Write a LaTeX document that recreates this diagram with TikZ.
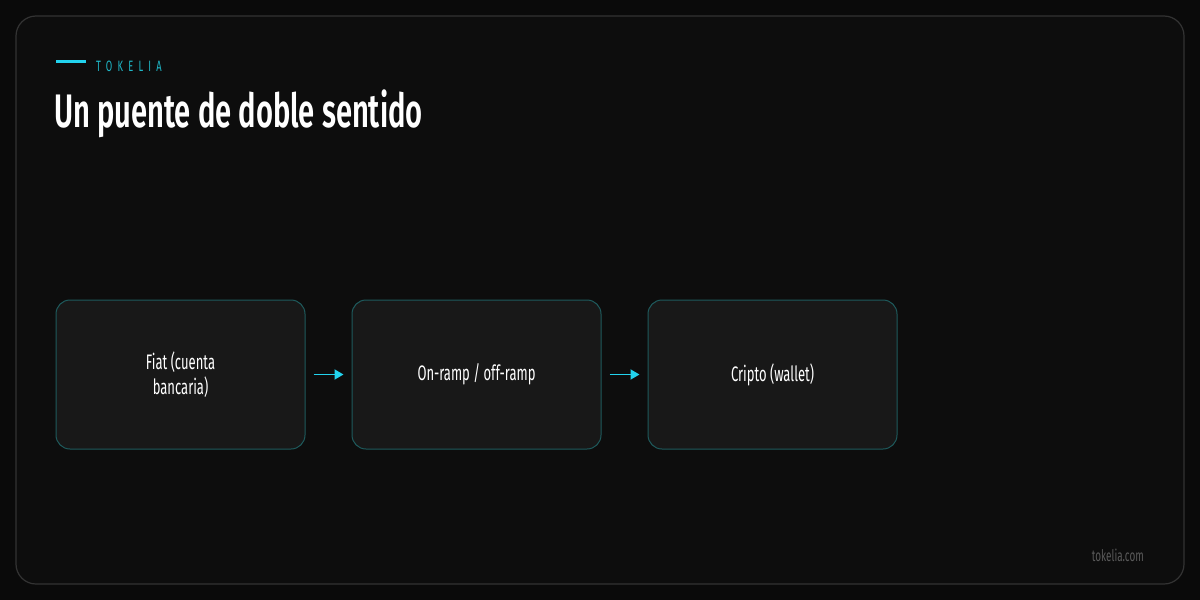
\documentclass[tikz,border=0pt]{standalone}
\usepackage{fontspec}
\setmainfont[FakeStretch=0.62]{Fira Sans}
\newfontfamily\titlefont[FakeStretch=0.62,WordSpace=1.0]{Fira Sans SemiBold}
\usetikzlibrary{arrows.meta}
\definecolor{bgc}{HTML}{0A0A0A}
\definecolor{panel}{HTML}{0D0D0D}
\definecolor{framec}{HTML}{333333}
\definecolor{cyanc}{HTML}{22D3EE}
\definecolor{cyantext}{HTML}{1FB8C8}
\definecolor{boxfill}{HTML}{181818}
\definecolor{boxline}{HTML}{1E5A5C}
\definecolor{greyt}{HTML}{5A5A5A}
\tikzset{
  flowbox/.style={draw=boxline, fill=boxfill, line width=1pt, rounded corners=14pt,
    minimum width=249pt, minimum height=149pt, align=center,
    text=white, font=\fontsize{21}{25}\selectfont, inner sep=0pt},
  flowarrow/.style={draw=cyanc, line width=1.8pt, -{Triangle[length=9pt,width=10pt]}}
}
\begin{document}
\begin{tikzpicture}[x=1pt,y=-1pt]
\fill[bgc] (0,0) rectangle (1200,600);
\useasboundingbox (0,0) rectangle (1200,600);
\draw[framec, fill=panel, line width=1.2pt, rounded corners=20pt] (16,16) rectangle (1184,584);
\draw[cyanc, line width=3pt] (56,61) -- (86,61);
\node[anchor=west, text=cyantext, inner sep=0pt, font=\fontsize{15}{15}\selectfont\addfontfeature{LetterSpace=35}] (brand) at (96,66) {TOKELIA};
\node[anchor=west, text=white, inner sep=0pt, font=\titlefont\fontsize{47}{50}\selectfont] (title) at (54,114) {Un puente de doble sentido};
\node[flowbox] (fiat) at (180.5,374.5) {Fiat (cuenta\\bancaria)};
\node[flowbox] (ramp) at (476.5,374.5) {On-ramp / off-ramp};
\node[flowbox] (cripto) at (772.5,374.5) {Cripto (wallet)};
\draw[flowarrow] ([xshift=8pt]fiat.east) -- ([xshift=-8pt]ramp.west);
\draw[flowarrow] ([xshift=8pt]ramp.east) -- ([xshift=-8pt]cripto.west);
\node[anchor=east, text=greyt, inner sep=0pt, font=\fontsize{16}{16}\selectfont] (site) at (1144,555) {tokelia.com};
\end{tikzpicture}
\end{document}
